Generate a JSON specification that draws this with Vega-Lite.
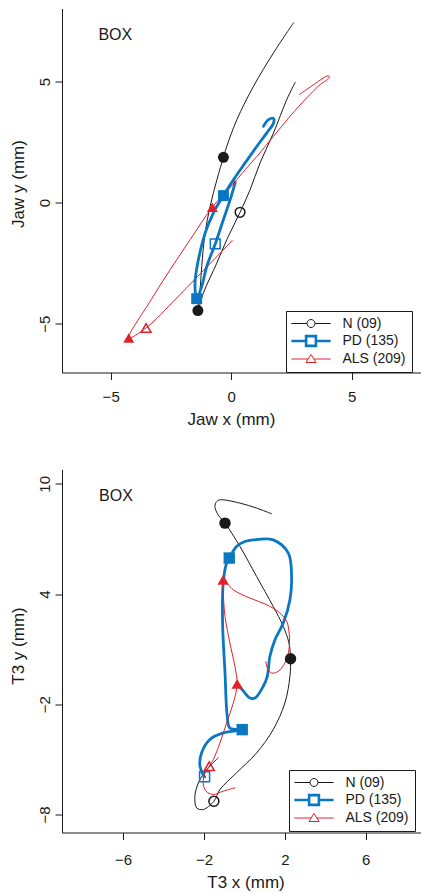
{
  "$schema": "https://vega.github.io/schema/vega-lite/v6.json",
  "padding": {"left": 9, "top": 8.5, "right": 0, "bottom": 0},
  "background": "white",
  "spacing": 97,
  "bounds": "flush",
  "resolve": {"scale": {"color": "independent"}, "legend": {"color": "independent"}},
  "config": {
    "view": {"stroke": null},
    "font": "Liberation Sans",
    "axis": {
      "domainColor": "#1a1a1a", "tickColor": "#1a1a1a", "labelColor": "#1a1a1a", "titleColor": "#1a1a1a",
      "labelFont": "Liberation Sans", "titleFont": "Liberation Sans",
      "labelFontSize": 15, "titleFontSize": 17, "titleFontWeight": "normal",
      "tickSize": 7, "grid": false, "labelOverlap": false, "labelFlush": false,
      "domainWidth": 1, "tickWidth": 1
    }
  },
  "datasets": {
    "top": [
      {"g": "N (09)", "i": 1, "x": 2.59, "y": 7.43, "m": ""},
      {"g": "N (09)", "i": 2, "x": 1.76, "y": 6.19, "m": ""},
      {"g": "N (09)", "i": 3, "x": 0.93, "y": 4.81, "m": ""},
      {"g": "N (09)", "i": 4, "x": 0.24, "y": 3.43, "m": ""},
      {"g": "N (09)", "i": 5, "x": -0.18, "y": 2.33, "m": ""},
      {"g": "N (09)", "i": 6, "x": -0.32, "y": 1.87, "m": "F"},
      {"g": "N (09)", "i": 7, "x": -0.59, "y": 0.95, "m": ""},
      {"g": "N (09)", "i": 8, "x": -0.87, "y": -0.15, "m": ""},
      {"g": "N (09)", "i": 9, "x": -1.08, "y": -1.25, "m": ""},
      {"g": "N (09)", "i": 10, "x": -1.22, "y": -2.63, "m": ""},
      {"g": "N (09)", "i": 11, "x": -1.29, "y": -3.6, "m": ""},
      {"g": "N (09)", "i": 12, "x": -1.38, "y": -4.46, "m": "F"},
      {"g": "N (09)", "i": 13, "x": -1.15, "y": -3.73, "m": ""},
      {"g": "N (09)", "i": 14, "x": -0.59, "y": -2.49, "m": ""},
      {"g": "N (09)", "i": 15, "x": -0.18, "y": -1.53, "m": ""},
      {"g": "N (09)", "i": 16, "x": 0.37, "y": -0.4, "m": "O"},
      {"g": "N (09)", "i": 17, "x": 0.79, "y": 0.54, "m": ""},
      {"g": "N (09)", "i": 18, "x": 1.2, "y": 1.64, "m": ""},
      {"g": "N (09)", "i": 19, "x": 1.76, "y": 2.88, "m": ""},
      {"g": "N (09)", "i": 20, "x": 2.31, "y": 4.26, "m": ""},
      {"g": "N (09)", "i": 21, "x": 2.66, "y": 4.97, "m": ""},
      {"g": "PD (135)", "i": 1, "x": 1.34, "y": 3.15, "m": ""},
      {"g": "PD (135)", "i": 2, "x": 1.55, "y": 3.43, "m": ""},
      {"g": "PD (135)", "i": 3, "x": 1.76, "y": 3.47, "m": ""},
      {"g": "PD (135)", "i": 4, "x": 1.76, "y": 3.29, "m": ""},
      {"g": "PD (135)", "i": 5, "x": 1.48, "y": 2.88, "m": ""},
      {"g": "PD (135)", "i": 6, "x": 1.07, "y": 2.33, "m": ""},
      {"g": "PD (135)", "i": 7, "x": 0.58, "y": 1.64, "m": ""},
      {"g": "PD (135)", "i": 8, "x": 0.1, "y": 0.95, "m": ""},
      {"g": "PD (135)", "i": 9, "x": -0.32, "y": 0.29, "m": "F"},
      {"g": "PD (135)", "i": 10, "x": -0.74, "y": -0.43, "m": ""},
      {"g": "PD (135)", "i": 11, "x": -1.08, "y": -1.26, "m": ""},
      {"g": "PD (135)", "i": 12, "x": -1.36, "y": -2.36, "m": ""},
      {"g": "PD (135)", "i": 13, "x": -1.5, "y": -3.32, "m": ""},
      {"g": "PD (135)", "i": 14, "x": -1.43, "y": -3.97, "m": "F"},
      {"g": "PD (135)", "i": 15, "x": -1.22, "y": -3.46, "m": ""},
      {"g": "PD (135)", "i": 16, "x": -1.01, "y": -2.63, "m": ""},
      {"g": "PD (135)", "i": 17, "x": -0.66, "y": -1.71, "m": "O"},
      {"g": "PD (135)", "i": 18, "x": -0.32, "y": -0.7, "m": ""},
      {"g": "PD (135)", "i": 19, "x": -0.04, "y": 0.12, "m": ""},
      {"g": "PD (135)", "i": 20, "x": 0.17, "y": 0.84, "m": ""},
      {"g": "ALS (209)", "i": 1, "x": 2.83, "y": 4.46, "m": ""},
      {"g": "ALS (209)", "i": 2, "x": 3.49, "y": 4.92, "m": ""},
      {"g": "ALS (209)", "i": 3, "x": 3.98, "y": 5.23, "m": ""},
      {"g": "ALS (209)", "i": 4, "x": 4.08, "y": 5.22, "m": ""},
      {"g": "ALS (209)", "i": 5, "x": 3.99, "y": 5.08, "m": ""},
      {"g": "ALS (209)", "i": 6, "x": 3.7, "y": 4.88, "m": ""},
      {"g": "ALS (209)", "i": 7, "x": 3.14, "y": 4.33, "m": ""},
      {"g": "ALS (209)", "i": 8, "x": 2.45, "y": 3.57, "m": ""},
      {"g": "ALS (209)", "i": 9, "x": 1.76, "y": 2.74, "m": ""},
      {"g": "ALS (209)", "i": 10, "x": 1.07, "y": 1.91, "m": ""},
      {"g": "ALS (209)", "i": 11, "x": 0.58, "y": 1.36, "m": ""},
      {"g": "ALS (209)", "i": 12, "x": -0.04, "y": 0.62, "m": ""},
      {"g": "ALS (209)", "i": 13, "x": -0.78, "y": -0.19, "m": "F"},
      {"g": "ALS (209)", "i": 14, "x": -1.7, "y": -1.53, "m": ""},
      {"g": "ALS (209)", "i": 15, "x": -2.53, "y": -2.77, "m": ""},
      {"g": "ALS (209)", "i": 16, "x": -3.37, "y": -4.09, "m": ""},
      {"g": "ALS (209)", "i": 17, "x": -4.25, "y": -5.59, "m": "F"},
      {"g": "ALS (209)", "i": 18, "x": -3.53, "y": -5.18, "m": "O"},
      {"g": "ALS (209)", "i": 19, "x": -2.26, "y": -3.94, "m": ""},
      {"g": "ALS (209)", "i": 20, "x": 0.05, "y": -1.56, "m": ""}
    ],
    "bot": [
      {"g": "N (09)", "i": 1, "x": 1.34, "y": 8.37, "m": ""},
      {"g": "N (09)", "i": 2, "x": 0.6, "y": 8.68, "m": ""},
      {"g": "N (09)", "i": 3, "x": -0.22, "y": 8.95, "m": ""},
      {"g": "N (09)", "i": 4, "x": -1.21, "y": 9.13, "m": ""},
      {"g": "N (09)", "i": 5, "x": -1.37, "y": 9.04, "m": ""},
      {"g": "N (09)", "i": 6, "x": -1.46, "y": 8.76, "m": ""},
      {"g": "N (09)", "i": 7, "x": -1.3, "y": 8.31, "m": ""},
      {"g": "N (09)", "i": 8, "x": -0.96, "y": 7.86, "m": "F"},
      {"g": "N (09)", "i": 9, "x": -0.22, "y": 6.59, "m": ""},
      {"g": "N (09)", "i": 10, "x": 0.6, "y": 4.96, "m": ""},
      {"g": "N (09)", "i": 11, "x": 1.42, "y": 3.33, "m": ""},
      {"g": "N (09)", "i": 12, "x": 1.92, "y": 2.24, "m": ""},
      {"g": "N (09)", "i": 13, "x": 2.2, "y": 1.34, "m": ""},
      {"g": "N (09)", "i": 14, "x": 2.28, "y": 0.48, "m": "F"},
      {"g": "N (09)", "i": 15, "x": 2.25, "y": -0.48, "m": ""},
      {"g": "N (09)", "i": 16, "x": 2.0, "y": -1.93, "m": ""},
      {"g": "N (09)", "i": 17, "x": 1.42, "y": -3.38, "m": ""},
      {"g": "N (09)", "i": 18, "x": 0.6, "y": -4.65, "m": ""},
      {"g": "N (09)", "i": 19, "x": -0.39, "y": -5.73, "m": ""},
      {"g": "N (09)", "i": 20, "x": -1.21, "y": -6.64, "m": ""},
      {"g": "N (09)", "i": 21, "x": -1.51, "y": -7.28, "m": "O"},
      {"g": "N (09)", "i": 22, "x": -2.04, "y": -7.73, "m": ""},
      {"g": "N (09)", "i": 23, "x": -2.36, "y": -7.64, "m": ""},
      {"g": "N (09)", "i": 24, "x": -2.45, "y": -7.01, "m": ""},
      {"g": "N (09)", "i": 25, "x": -2.28, "y": -6.28, "m": ""},
      {"g": "N (09)", "i": 26, "x": -2.04, "y": -5.83, "m": ""},
      {"g": "N (09)", "i": 27, "x": -1.71, "y": -5.37, "m": ""},
      {"g": "N (09)", "i": 28, "x": -1.3, "y": -4.92, "m": ""},
      {"g": "PD (135)", "i": 1, "x": -0.3, "y": -0.95, "m": ""},
      {"g": "PD (135)", "i": 2, "x": 0.02, "y": -1.38, "m": ""},
      {"g": "PD (135)", "i": 3, "x": 0.27, "y": -1.66, "m": ""},
      {"g": "PD (135)", "i": 4, "x": 0.52, "y": -1.66, "m": ""},
      {"g": "PD (135)", "i": 5, "x": 0.93, "y": -1.02, "m": ""},
      {"g": "PD (135)", "i": 6, "x": 1.13, "y": -0.48, "m": ""},
      {"g": "PD (135)", "i": 7, "x": 1.26, "y": 0.61, "m": ""},
      {"g": "PD (135)", "i": 8, "x": 1.51, "y": 1.51, "m": ""},
      {"g": "PD (135)", "i": 9, "x": 1.92, "y": 2.42, "m": ""},
      {"g": "PD (135)", "i": 10, "x": 2.25, "y": 3.69, "m": ""},
      {"g": "PD (135)", "i": 11, "x": 2.33, "y": 4.96, "m": ""},
      {"g": "PD (135)", "i": 12, "x": 2.17, "y": 6.23, "m": ""},
      {"g": "PD (135)", "i": 13, "x": 1.42, "y": 6.95, "m": ""},
      {"g": "PD (135)", "i": 14, "x": 0.43, "y": 6.95, "m": ""},
      {"g": "PD (135)", "i": 15, "x": 0.02, "y": 6.86, "m": ""},
      {"g": "PD (135)", "i": 16, "x": -0.39, "y": 6.59, "m": ""},
      {"g": "PD (135)", "i": 17, "x": -0.75, "y": 5.96, "m": "F"},
      {"g": "PD (135)", "i": 18, "x": -0.88, "y": 5.69, "m": ""},
      {"g": "PD (135)", "i": 19, "x": -1.05, "y": 4.6, "m": ""},
      {"g": "PD (135)", "i": 20, "x": -1.08, "y": 2.42, "m": ""},
      {"g": "PD (135)", "i": 21, "x": -0.96, "y": -0.3, "m": ""},
      {"g": "PD (135)", "i": 22, "x": -0.85, "y": -2.66, "m": ""},
      {"g": "PD (135)", "i": 23, "x": -0.72, "y": -3.29, "m": ""},
      {"g": "PD (135)", "i": 24, "x": -0.11, "y": -3.38, "m": "F"},
      {"g": "PD (135)", "i": 25, "x": -1.05, "y": -3.56, "m": ""},
      {"g": "PD (135)", "i": 26, "x": -1.71, "y": -3.92, "m": ""},
      {"g": "PD (135)", "i": 27, "x": -2.12, "y": -4.65, "m": ""},
      {"g": "PD (135)", "i": 28, "x": -2.2, "y": -5.37, "m": ""},
      {"g": "PD (135)", "i": 29, "x": -2.04, "y": -5.83, "m": ""},
      {"g": "PD (135)", "i": 30, "x": -1.97, "y": -5.95, "m": "O"},
      {"g": "ALS (209)", "i": 1, "x": 1.06, "y": 0.33, "m": ""},
      {"g": "ALS (209)", "i": 2, "x": 1.13, "y": -0.02, "m": ""},
      {"g": "ALS (209)", "i": 3, "x": 1.34, "y": -0.3, "m": ""},
      {"g": "ALS (209)", "i": 4, "x": 1.67, "y": -0.21, "m": ""},
      {"g": "ALS (209)", "i": 5, "x": 2.0, "y": 0.25, "m": ""},
      {"g": "ALS (209)", "i": 6, "x": 2.2, "y": 0.97, "m": ""},
      {"g": "ALS (209)", "i": 7, "x": 2.21, "y": 1.88, "m": ""},
      {"g": "ALS (209)", "i": 8, "x": 2.09, "y": 2.51, "m": ""},
      {"g": "ALS (209)", "i": 9, "x": 1.75, "y": 2.97, "m": ""},
      {"g": "ALS (209)", "i": 10, "x": 1.1, "y": 3.42, "m": ""},
      {"g": "ALS (209)", "i": 11, "x": 0.27, "y": 3.78, "m": ""},
      {"g": "ALS (209)", "i": 12, "x": -0.55, "y": 4.23, "m": ""},
      {"g": "ALS (209)", "i": 13, "x": -1.05, "y": 4.78, "m": "F"},
      {"g": "ALS (209)", "i": 14, "x": -1.05, "y": 4.23, "m": ""},
      {"g": "ALS (209)", "i": 15, "x": -0.96, "y": 2.78, "m": ""},
      {"g": "ALS (209)", "i": 16, "x": -0.72, "y": 1.34, "m": ""},
      {"g": "ALS (209)", "i": 17, "x": -0.47, "y": 0.06, "m": ""},
      {"g": "ALS (209)", "i": 18, "x": -0.36, "y": -0.89, "m": "F"},
      {"g": "ALS (209)", "i": 19, "x": -0.55, "y": -1.93, "m": ""},
      {"g": "ALS (209)", "i": 20, "x": -0.88, "y": -3.01, "m": ""},
      {"g": "ALS (209)", "i": 21, "x": -1.21, "y": -4.1, "m": ""},
      {"g": "ALS (209)", "i": 22, "x": -1.54, "y": -5.01, "m": ""},
      {"g": "ALS (209)", "i": 23, "x": -1.74, "y": -5.37, "m": "O"},
      {"g": "ALS (209)", "i": 24, "x": -1.95, "y": -5.73, "m": ""},
      {"g": "ALS (209)", "i": 25, "x": -2.04, "y": -6.28, "m": ""},
      {"g": "ALS (209)", "i": 26, "x": -1.9, "y": -6.73, "m": ""},
      {"g": "ALS (209)", "i": 27, "x": -1.54, "y": -6.91, "m": ""},
      {"g": "ALS (209)", "i": 28, "x": -1.05, "y": -6.73, "m": ""},
      {"g": "ALS (209)", "i": 29, "x": -0.47, "y": -6.55, "m": ""}
    ]
  },
  "vconcat": [
    {
      "width": 359,
      "height": 364,
      "layer": [
        {
          "data": {"name": "top"},
          "mark": {"type": "line", "interpolate": "catmull-rom", "strokeCap": "round", "strokeJoin": "round"},
          "encoding": {
            "x": {"field": "x", "type": "quantitative", "scale": {"domain": [-7.02, 7.88], "nice": false, "zero": false},
              "axis": {"values": [-5, 0, 5], "title": "Jaw x (mm)", "titleX": 169, "titleY": 52, "titleBaseline": "alphabetic", "titleAlign": "center", "labelBaseline": "top", "labelPadding": 10.4}},
            "y": {"field": "y", "type": "quantitative", "scale": {"domain": [-7.02, 8.02], "nice": false, "zero": false},
              "axis": {"values": [-5, 0, 5], "title": "Jaw y (mm)", "titleAngle": -90, "titleX": -39, "titleY": 175, "titleBaseline": "alphabetic", "titleAlign": "center", "labelAngle": -90, "labelAlign": "center", "labelBaseline": "alphabetic", "labelPadding": 5.5}},
            "order": {"field": "i", "type": "quantitative"},
            "color": {"field": "g", "type": "nominal",
              "scale": {"domain": ["N (09)", "PD (135)", "ALS (209)"], "range": ["#1a1a1a", "#0a77c2", "#e2202a"]},
              "legend": {"title": null, "orient": "none", "legendX": 224, "legendY": 302.5, "direction": "vertical",
                "strokeColor": "#1a1a1a", "fillColor": "white", "padding": 5.5,
                "labelFont": "Liberation Sans", "labelFontSize": 14, "labelColor": "#1a1a1a",
                "symbolSize": 196, "symbolOffset": 12.5, "labelOffset": 24.5, "rowPadding": -0.5,
                "encode": {"symbols": {"update": {
                  "shape": {"signal": "datum.value === 'N (09)' ? 'M-2.8,0H-0.57M0.57,0H2.8M-0.57,0A0.57,0.57,0,1,1,0.57,0A0.57,0.57,0,1,1,-0.57,0Z' : datum.value === 'PD (135)' ? 'M-2.8,0H-0.7M0.7,0H2.8M-0.7,-0.7H0.7V0.7H-0.7Z' : 'M-2.8,0H-0.41M0.41,0H2.8M0,-0.65L0.72,0.5H-0.72Z'"},
                  "strokeWidth": {"signal": "datum.value === 'PD (135)' ? 2.6 : 1"},
                  "fill": {"value": "white"},
                  "fillOpacity": {"value": 1},
                  "opacity": {"value": 1}
                }}}
              }},
            "strokeWidth": {"condition": {"test": "datum.g === 'PD (135)'", "value": 2.8}, "value": 1}
          }
        },
        {
          "data": {"name": "top"},
          "transform": [{"filter": "datum.m === 'F'"}],
          "mark": {"type": "point", "filled": true, "opacity": 1, "size": 120},
          "encoding": {
            "x": {"field": "x", "type": "quantitative", "scale": {"domain": [-7.02, 7.88], "nice": false, "zero": false}},
            "y": {"field": "y", "type": "quantitative", "scale": {"domain": [-7.02, 8.02], "nice": false, "zero": false}},
            "shape": {"condition": [{"test": "datum.g === 'N (09)'", "value": "circle"}, {"test": "datum.g === 'PD (135)'", "value": "square"}], "value": "triangle-up"},
            "color": {"condition": [{"test": "datum.g === 'N (09)'", "value": "#1a1a1a"}, {"test": "datum.g === 'PD (135)'", "value": "#0a77c2"}], "value": "#e2202a"}
          }
        },
        {
          "data": {"name": "top"},
          "transform": [{"filter": "datum.m === 'O'"}],
          "mark": {"type": "point", "filled": false, "opacity": 1, "size": 95, "strokeWidth": 1.5},
          "encoding": {
            "x": {"field": "x", "type": "quantitative", "scale": {"domain": [-7.02, 7.88], "nice": false, "zero": false}},
            "y": {"field": "y", "type": "quantitative", "scale": {"domain": [-7.02, 8.02], "nice": false, "zero": false}},
            "shape": {"condition": [{"test": "datum.g === 'N (09)'", "value": "circle"}, {"test": "datum.g === 'PD (135)'", "value": "square"}], "value": "triangle-up"},
            "color": {"condition": [{"test": "datum.g === 'N (09)'", "value": "#1a1a1a"}, {"test": "datum.g === 'PD (135)'", "value": "#0a77c2"}], "value": "#e2202a"}
          }
        },
        {
          "data": {"values": [{"x": -5.51, "y": 6.71, "t": "BOX"}]},
          "mark": {"type": "text", "align": "left", "baseline": "alphabetic", "fontSize": 16, "font": "Liberation Sans", "color": "#1a1a1a"},
          "encoding": {
            "x": {"field": "x", "type": "quantitative", "scale": {"domain": [-7.02, 7.88], "nice": false, "zero": false}},
            "y": {"field": "y", "type": "quantitative", "scale": {"domain": [-7.02, 8.02], "nice": false, "zero": false}},
            "text": {"field": "t"}
          }
        },
        {
          "mark": {"type": "rule", "color": "#1a1a1a", "strokeWidth": 1, "yOffset": 0.5},
          "encoding": {
            "y": {"datum": 8.02, "type": "quantitative", "scale": {"domain": [-7.02, 8.02], "nice": false, "zero": false}}
          }
        }
      ]
    },
    {
      "width": 359,
      "height": 363,
      "layer": [
        {
          "data": {"name": "bot"},
          "mark": {"type": "line", "interpolate": "catmull-rom", "strokeCap": "round", "strokeJoin": "round"},
          "encoding": {
            "x": {"field": "x", "type": "quantitative", "scale": {"domain": [-9.02, 8.73], "nice": false, "zero": false},
              "axis": {"values": [-6, -2, 2, 6], "title": "T3 x (mm)", "titleX": 183.5, "titleY": 54.5, "titleBaseline": "alphabetic", "titleAlign": "center", "labelBaseline": "top", "labelPadding": 13}},
            "y": {"field": "y", "type": "quantitative", "scale": {"domain": [-8.98, 10.78], "nice": false, "zero": false},
              "axis": {"values": [-8, -2, 4, 10], "title": "T3 y (mm)", "titleAngle": -90, "titleX": -39, "titleY": 176, "titleBaseline": "alphabetic", "titleAlign": "center", "labelAngle": -90, "labelAlign": "center", "labelBaseline": "alphabetic", "labelPadding": 5.5}},
            "order": {"field": "i", "type": "quantitative"},
            "color": {"field": "g", "type": "nominal",
              "scale": {"domain": ["N (09)", "PD (135)", "ALS (209)"], "range": ["#1a1a1a", "#0a77c2", "#e2202a"]},
              "legend": {"title": null, "orient": "none", "legendX": 227, "legendY": 300.5, "direction": "vertical",
                "strokeColor": "#1a1a1a", "fillColor": "white", "padding": 5.5,
                "labelFont": "Liberation Sans", "labelFontSize": 14, "labelColor": "#1a1a1a",
                "symbolSize": 196, "symbolOffset": 12.5, "labelOffset": 24.5, "rowPadding": -0.5,
                "encode": {"symbols": {"update": {
                  "shape": {"signal": "datum.value === 'N (09)' ? 'M-2.8,0H-0.57M0.57,0H2.8M-0.57,0A0.57,0.57,0,1,1,0.57,0A0.57,0.57,0,1,1,-0.57,0Z' : datum.value === 'PD (135)' ? 'M-2.8,0H-0.7M0.7,0H2.8M-0.7,-0.7H0.7V0.7H-0.7Z' : 'M-2.8,0H-0.41M0.41,0H2.8M0,-0.65L0.72,0.5H-0.72Z'"},
                  "strokeWidth": {"signal": "datum.value === 'PD (135)' ? 2.6 : 1"},
                  "fill": {"value": "white"},
                  "fillOpacity": {"value": 1},
                  "opacity": {"value": 1}
                }}}
              }},
            "strokeWidth": {"condition": {"test": "datum.g === 'PD (135)'", "value": 2.8}, "value": 1}
          }
        },
        {
          "data": {"name": "bot"},
          "transform": [{"filter": "datum.m === 'F'"}],
          "mark": {"type": "point", "filled": true, "opacity": 1, "size": 130},
          "encoding": {
            "x": {"field": "x", "type": "quantitative", "scale": {"domain": [-9.02, 8.73], "nice": false, "zero": false}},
            "y": {"field": "y", "type": "quantitative", "scale": {"domain": [-8.98, 10.78], "nice": false, "zero": false}},
            "shape": {"condition": [{"test": "datum.g === 'N (09)'", "value": "circle"}, {"test": "datum.g === 'PD (135)'", "value": "square"}], "value": "triangle-up"},
            "color": {"condition": [{"test": "datum.g === 'N (09)'", "value": "#1a1a1a"}, {"test": "datum.g === 'PD (135)'", "value": "#0a77c2"}], "value": "#e2202a"}
          }
        },
        {
          "data": {"name": "bot"},
          "transform": [{"filter": "datum.m === 'O'"}],
          "mark": {"type": "point", "filled": false, "opacity": 1, "size": 100, "strokeWidth": 1.5},
          "encoding": {
            "x": {"field": "x", "type": "quantitative", "scale": {"domain": [-9.02, 8.73], "nice": false, "zero": false}},
            "y": {"field": "y", "type": "quantitative", "scale": {"domain": [-8.98, 10.78], "nice": false, "zero": false}},
            "shape": {"condition": [{"test": "datum.g === 'N (09)'", "value": "circle"}, {"test": "datum.g === 'PD (135)'", "value": "square"}], "value": "triangle-up"},
            "color": {"condition": [{"test": "datum.g === 'N (09)'", "value": "#1a1a1a"}, {"test": "datum.g === 'PD (135)'", "value": "#0a77c2"}], "value": "#e2202a"}
          }
        },
        {
          "data": {"values": [{"x": -7.19, "y": 9.04, "t": "BOX"}]},
          "mark": {"type": "text", "align": "left", "baseline": "alphabetic", "fontSize": 16, "font": "Liberation Sans", "color": "#1a1a1a"},
          "encoding": {
            "x": {"field": "x", "type": "quantitative", "scale": {"domain": [-9.02, 8.73], "nice": false, "zero": false}},
            "y": {"field": "y", "type": "quantitative", "scale": {"domain": [-8.98, 10.78], "nice": false, "zero": false}},
            "text": {"field": "t"}
          }
        },
        {
          "mark": {"type": "rule", "color": "#1a1a1a", "strokeWidth": 1, "yOffset": 0.5},
          "encoding": {
            "y": {"datum": 10.78, "type": "quantitative", "scale": {"domain": [-8.98, 10.78], "nice": false, "zero": false}}
          }
        }
      ]
    }
  ]
}
